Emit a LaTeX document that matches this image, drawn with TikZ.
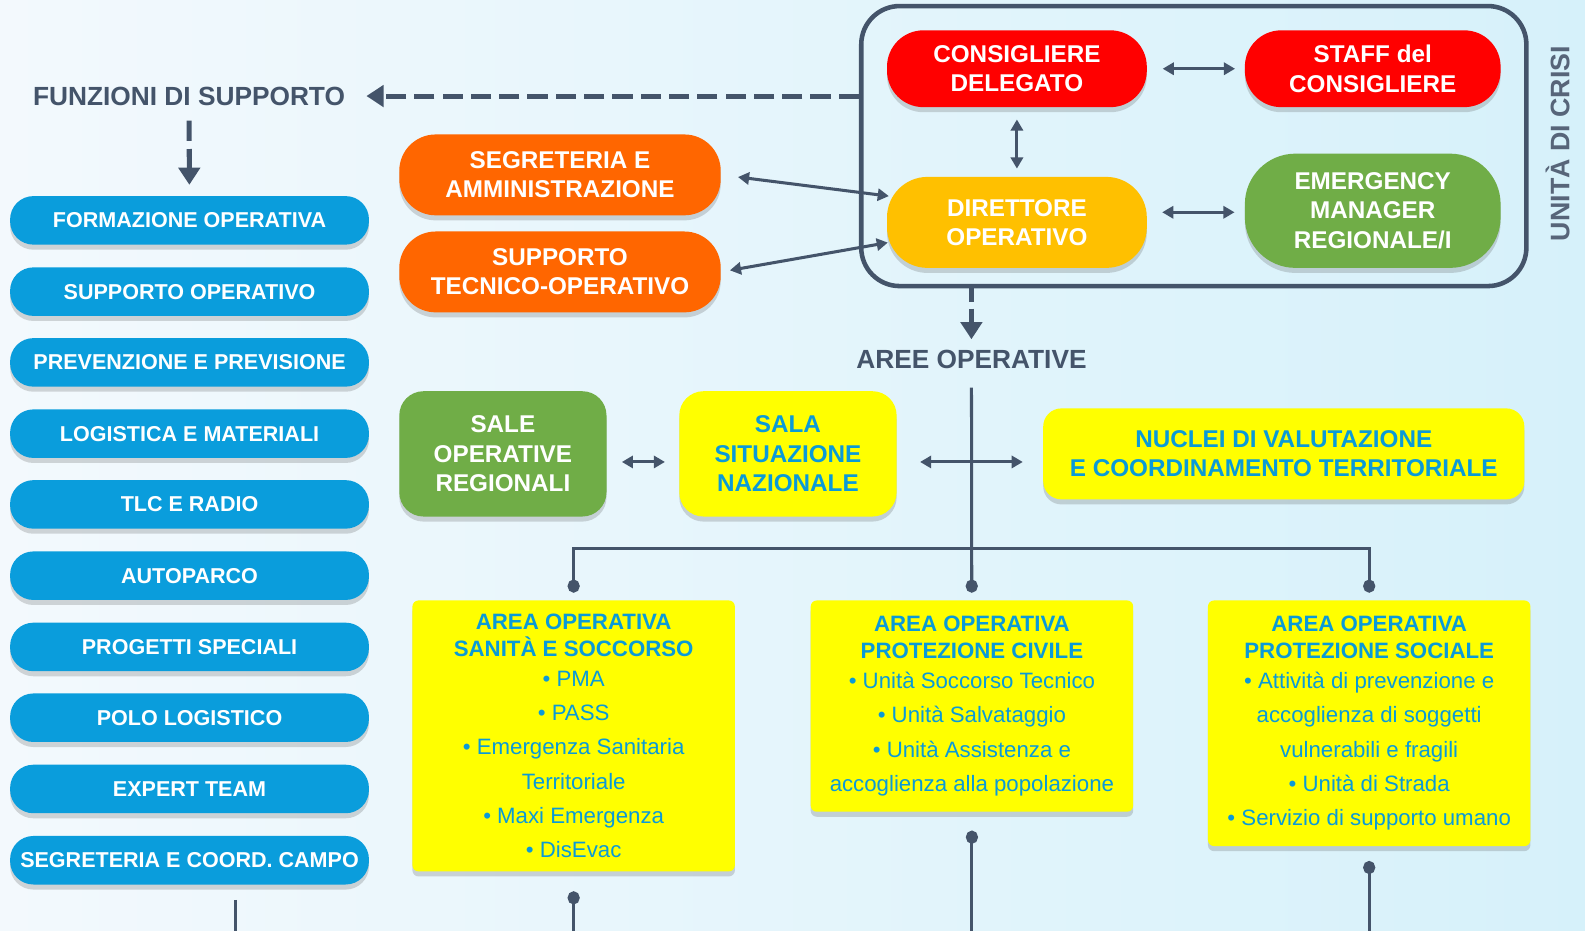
\documentclass[tikz,border=0pt]{standalone}
\usepackage{fontspec}
\setmainfont{Liberation Sans}
\usetikzlibrary{arrows.meta,shadows}

\definecolor{slate}{HTML}{44546A}
\definecolor{skyblue}{HTML}{0A9DDC}
\definecolor{orangebox}{HTML}{FF6600}
\definecolor{redbox}{HTML}{FF0000}
\definecolor{goldbox}{HTML}{FFC000}
\definecolor{greenbox}{HTML}{70AD47}
\definecolor{yellowbox}{HTML}{FFFF00}
\definecolor{areatext}{HTML}{0A9AD8}
\definecolor{bgleft}{HTML}{F3F9FD}
\definecolor{bgright}{HTML}{D6F1FA}

\tikzset{
  boxshadow/.style={drop shadow={shadow xshift=0pt, shadow yshift=-5pt, opacity=0.22, fill=black!70}},
  funbox/.style={boxshadow, fill=skyblue, text=white, rounded corners=23pt,
    minimum width=355pt, minimum height=48pt, font=\bfseries\fontsize{21.3}{26}\selectfont},
  unitbox/.style={boxshadow, text=white, align=center, rounded corners=36pt,
    minimum width=257pt, font=\bfseries\fontsize{24}{29}\selectfont},
  roombox/.style={boxshadow, align=center, rounded corners=24pt,
    font=\bfseries\fontsize{24}{29}\selectfont},
  areabox/.style={boxshadow, fill=yellowbox, text=areatext, rounded corners=6pt, align=center,
    minimum width=319pt, font=\fontsize{22}{34}\selectfont},
  headtext/.style={text=slate, inner sep=3pt, font=\bfseries\fontsize{26}{30}\selectfont},
  biarrow/.style={{Triangle[length=11pt,width=12pt]}-{Triangle[length=11pt,width=12pt]}, line width=3pt, draw=slate},
  dasharrow/.style={-{Triangle[length=17pt,width=21pt]}, line width=5pt, draw=slate, dash pattern=on 20pt off 8pt},
  stem/.style={line width=3pt, draw=slate},
  dotend/.style={-{Circle[length=13pt,width=12pt]}},
  dotstart/.style={{Circle[length=13pt,width=12pt]}-}
}

\begin{document}
\begin{tikzpicture}[x=1pt, y=1pt, every node/.append style={inner sep=0pt}]
	\shade[left color=bgleft, right color=bgright] (0,0) rectangle (1568,-921);
	\useasboundingbox (0,0) rectangle (1568,-921);

	\node[draw=slate, line width=4.5pt, rounded corners=38pt, minimum width=658pt, minimum height=277pt] (crisi) at (1181,-144.5) {};
	\node[rotate=90, text=slate!90, font=\bfseries\fontsize{26.5}{30}\selectfont] (crisilbl) at (1541,-142) {UNITÀ DI CRISI};

	\node[unitbox, fill=redbox, minimum height=76pt] (cons) at (1006,-68) {CONSIGLIERE\\DELEGATO};
	\node[unitbox, fill=redbox, minimum height=76pt, minimum width=253pt] (staff) at (1358,-68) {STAFF del\\CONSIGLIERE};
	\node[unitbox, fill=goldbox, minimum height=90pt, rounded corners=40pt] (dir) at (1006,-220) {DIRETTORE\\OPERATIVO};
	\node[unitbox, fill=greenbox, minimum height=113pt, minimum width=253pt, rounded corners=50pt] (emerg) at (1358,-208.5) {EMERGENCY\\MANAGER\\REGIONALE/I};

	\node[unitbox, fill=orangebox, minimum width=318pt, minimum height=80pt] (segr) at (554,-173) {SEGRETERIA E\\AMMINISTRAZIONE};
	\node[unitbox, fill=orangebox, minimum width=318pt, minimum height=80pt] (supp) at (554,-269) {SUPPORTO\\TECNICO-OPERATIVO};

	\node[headtext] (funz) at (187,-95) {FUNZIONI DI SUPPORTO};
	\node[headtext] (aree) at (961,-356) {AREE OPERATIVE};

	\node[funbox] (fun1) at (187.5,-218) {FORMAZIONE OPERATIVA};
	\node[funbox] (fun2) at (187.5,-288.5) {SUPPORTO OPERATIVO};
	\node[funbox] (fun3) at (187.5,-358.5) {PREVENZIONE E PREVISIONE};
	\node[funbox] (fun4) at (187.5,-429) {LOGISTICA E MATERIALI};
	\node[funbox] (fun5) at (187.5,-499) {TLC E RADIO};
	\node[funbox] (fun6) at (187.5,-569.5) {AUTOPARCO};
	\node[funbox] (fun7) at (187.5,-640) {PROGETTI SPECIALI};
	\node[funbox] (fun8) at (187.5,-710) {POLO LOGISTICO};
	\node[funbox] (fun9) at (187.5,-780.5) {EXPERT TEAM};
	\node[funbox] (fun10) at (187.5,-851) {SEGRETERIA E COORD. CAMPO};

	\node[roombox, fill=greenbox, text=white, minimum width=205pt, minimum height=124pt] (sale) at (497.5,-449) {SALE\\OPERATIVE\\REGIONALI};
	\node[roombox, fill=yellowbox, text=areatext, minimum width=215pt, minimum height=124pt] (sala) at (779.5,-449) {SALA\\SITUAZIONE\\NAZIONALE};
	\node[roombox, fill=yellowbox, text=areatext, rounded corners=18pt, minimum width=476pt, minimum height=90pt] (nuclei) at (1270,-449) {NUCLEI DI VALUTAZIONE\\E COORDINAMENTO TERRITORIALE};

	\node[areabox, minimum height=268pt, text depth=-2pt] (a1) at (567.5,-728) {\textbf{AREA OPERATIVA}\\[-7pt]\textbf{SANITÀ E SOCCORSO}\\[-5pt]• PMA\\• PASS\\• Emergenza Sanitaria\\Territoriale\\• Maxi Emergenza\\• DisEvac};
	\node[areabox, minimum height=209pt] (a2) at (961.5,-698.5) {\textbf{AREA OPERATIVA}\\[-7pt]\textbf{PROTEZIONE CIVILE}\\[-5pt]• Unità Soccorso Tecnico\\• Unità Salvataggio\\• Unità Assistenza e\\accoglienza alla popolazione};
	\node[areabox, minimum height=243pt] (a3) at (1354.5,-715.5) {\textbf{AREA OPERATIVA}\\[-7pt]\textbf{PROTEZIONE SOCIALE}\\[-5pt]• Attività di prevenzione e\\accoglienza di soggetti\\vulnerabili e fragili\\• Unità di Strada\\• Servizio di supporto umano};

	\coordinate (hub) at (961.5,-543);
	\coordinate (a1end) at (567.5,-921);
	\coordinate (a2end) at (961.5,-921);
	\coordinate (a3end) at (1354.5,-921);
	\coordinate (funend) at (233,-921);

	\draw[dasharrow, shorten >=18pt] (crisi.west |- funz) -- (funz);
	\draw[dasharrow, shorten <=12pt, shorten >=11pt] (funz) -- (fun1);
	\draw[dasharrow, dash pattern=on 14pt off 6pt, shorten >=8pt] (aree |- crisi.south) -- (aree);

	\draw[biarrow, shorten <=15.5pt, shorten >=9.5pt] (cons) -- (staff);
	\draw[biarrow, shorten <=12pt, shorten >=8pt] (cons) -- (dir);
	\draw[biarrow, shorten <=15pt, shorten >=10pt] ([yshift=10pt]dir.east) -- ([yshift=-1.5pt]emerg.west);
	\draw[biarrow, shorten <=17pt] (segr.east) -- ([xshift=2pt,yshift=26pt]dir.west);
	\draw[biarrow, shorten <=9pt] (supp.east) -- ([xshift=1pt,yshift=-20pt]dir.west);

	\draw[biarrow, shorten <=15pt, shorten >=14pt] ([yshift=-8pt]sale.east) -- ([yshift=-8pt]sala.west);
	\draw[biarrow, shorten <=23pt, shorten >=20pt] ([yshift=-8pt]sala.east) -- ([yshift=-8pt]nuclei.west);

	\draw[stem, dotend, shorten <=15pt, shorten >=7.5pt] (aree) -- (a2);
	\draw[stem, dotend, shorten >=7.5pt] (hub) -| (a1);
	\draw[stem, dotend, shorten >=7.5pt] (hub) -| (a3);

	\draw[stem, dotstart, shorten <=19.5pt] (a1) -- (a1end);
	\draw[stem, dotstart, shorten <=18.5pt] (a2) -- (a2end);
	\draw[stem, dotstart, shorten <=14.5pt] (a3) -- (a3end);
	\draw[stem, shorten <=15pt] ([xshift=45.5pt]fun10.south) -- (funend);
\end{tikzpicture}
\end{document}
